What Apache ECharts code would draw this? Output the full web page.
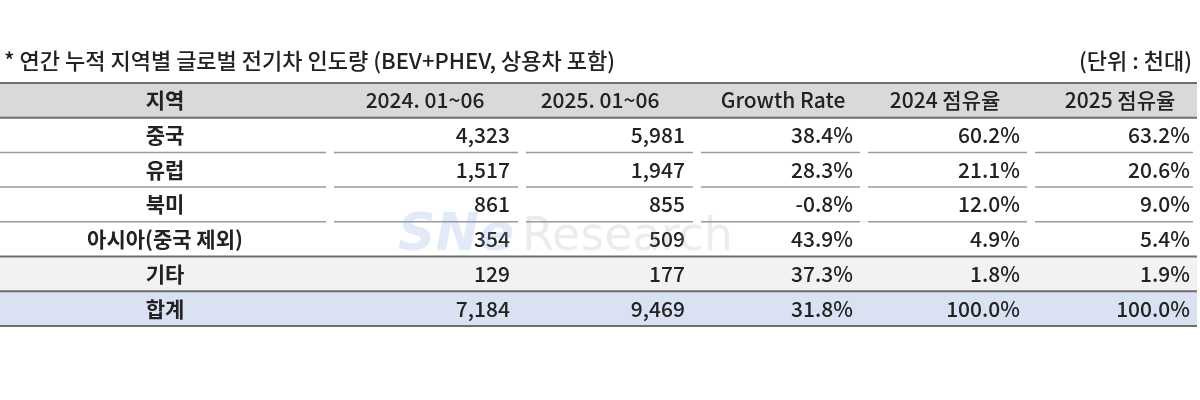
<!DOCTYPE html>
<html><head><meta charset="utf-8">
<script src="https://cdn.jsdelivr.net/npm/echarts@6/dist/echarts.min.js"></script>
<style>html,body{margin:0;padding:0;background:#fff}#c{width:1200px;height:400px}</style>
</head><body><div id="c"></div>
<script>
const title = '* 연간 누적 지역별 글로벌 전기차 인도량 (BEV+PHEV, 상용차 포함)';
const unit = '(단위 : 천대)';
const headers = ['지역', '2024. 01~06', '2025. 01~06', 'Growth Rate', '2024 점유율', '2025 점유율'];
const regions = ['중국', '유럽', '북미', '아시아(중국 제외)', '기타', '합계'];
const v2024 = [4323, 1517, 861, 354, 129, 7184];
const v2025 = [5981, 1947, 855, 509, 177, 9469];
const growth = [38.4, 28.3, -0.8, 43.9, 37.3, 31.8];
const share2024 = [60.2, 21.1, 12.0, 4.9, 1.8, 100.0];
const share2025 = [63.2, 20.6, 9.0, 5.4, 1.9, 100.0];

const colX = [0, 330, 522, 697, 864, 1031, 1197];
const textRight = [0, 510, 685, 853, 1020, 1190];
const headCenter = [165, 425, 600, 783, 945, 1120];
const tableTop = 83, rowH = 34.7;
const font = '"Noto Sans CJK KR", "Noto Sans", sans-serif';
const fmt = n => n.toLocaleString('en-US');
const pct = n => n.toFixed(1) + '%';
const rowFill = ['#fff','#fff','#fff','#fff','#f2f2f2','#dae1f2'];

const els = [];
els.push({type:'text', left:4, top:50, style:{text:title, font:'500 22px '+font, fill:'#222'}});
els.push({type:'text', right:8, top:50, style:{text:unit, font:'500 22px '+font, fill:'#222'}});
els.push({type:'rect', shape:{x:0,y:tableTop,width:1197,height:rowH}, style:{fill:'#d9d9d9'}});
headers.forEach((h,i)=>els.push({type:'text', x:headCenter[i], y:tableTop+rowH/2, style:{text:h, font:(i===0?'bold ':'500 ')+'21px '+font, fill:'#222', align:'center', verticalAlign:'middle'}}));
const rows = regions.map((r,i)=>[r, fmt(v2024[i]), fmt(v2025[i]), pct(growth[i]), pct(share2024[i]), pct(share2025[i])]);
rows.forEach((row,ri)=>{
  const y = tableTop + rowH*(ri+1);
  if (rowFill[ri] !== '#fff') els.push({type:'rect', shape:{x:0,y:y,width:1197,height:rowH}, style:{fill:rowFill[ri]}});
  row.forEach((t,ci)=>{
    els.push({type:'text', x: ci===0?headCenter[0]:textRight[ci], y:y+rowH/2,
      style:{text:t, font:(ci===0?'bold ':'500 ')+'21px '+font, fill:'#222', align: ci===0?'center':'right', verticalAlign:'middle'}});
  });
  if (ri < 3) {
    for (let c=0;c<6;c++) els.push({type:'line', shape:{x1:colX[c]+(c?4:0), y1:y+rowH, x2:colX[c+1]-4, y2:y+rowH}, style:{stroke:'#9a9a9a', lineWidth:1.5}});
  }
});
[tableTop, tableTop+rowH, tableTop+rowH*5, tableTop+rowH*6, tableTop+rowH*7].forEach(y=>els.push({type:'line', shape:{x1:0,y1:y,x2:1197,y2:y}, style:{stroke:'#6e6e6e', lineWidth:2}}));
els.push({type:'text', x:398, y:236, z:10, style:{text:'SNe', font:'bold italic 52px "DejaVu Sans", sans-serif', fill:'rgba(120,160,215,0.22)', verticalAlign:'middle'}});
els.push({type:'text', x:522, y:238, z:10, style:{text:'Research', font:'46px "DejaVu Sans", sans-serif', fill:'rgba(150,150,150,0.18)', verticalAlign:'middle'}});

const chart = echarts.init(document.getElementById('c'));
chart.setOption({animation:false, graphic:{elements:els}});
</script></body></html>
